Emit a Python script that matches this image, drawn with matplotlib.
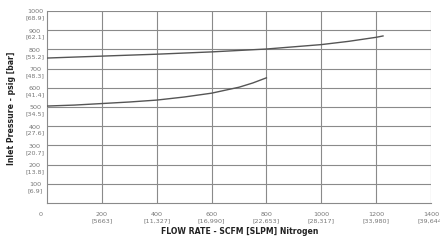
import numpy as np
import matplotlib
matplotlib.use("Agg")
import matplotlib.pyplot as plt
from matplotlib import transforms

# curve data (flow SCFM, pressure psig)
upper_flow = [0, 200, 400, 600, 800, 1000, 1100, 1200, 1225]
upper_psig = [755, 765, 775, 787, 802, 825, 842, 863, 870]
lower_flow = [0, 100, 200, 300, 400, 500, 600, 700, 750, 800]
lower_psig = [505, 510, 518, 526, 536, 552, 572, 603, 625, 652]

y_ticks = [100, 200, 300, 400, 500, 600, 700, 800, 900, 1000]
y_bar = ["6.9", "13.8", "20.7", "27.6", "34.5", "41.4", "48.3", "55.2", "62.1", "68.9"]
x_ticks = [200, 400, 600, 800, 1000, 1200, 1400]
x_slpm = ["5663", "11,327", "16,990", "22,653", "28,317", "33,980", "39,644"]

fig = plt.figure(figsize=(4.4, 2.41), dpi=100)
ax = fig.add_axes([47 / 440, 1 - 203 / 241, 384 / 440, 192 / 241])

grid_col = "#8a8a8a"
for y in y_ticks:
    ax.axhline(y, color=grid_col, lw=0.8, zorder=1)
for x in x_ticks:
    ax.axvline(x, color=grid_col, lw=0.8, zorder=1)

ax.plot(upper_flow, upper_psig, color="#555555", lw=1.0, zorder=3)
ax.plot(lower_flow, lower_psig, color="#555555", lw=1.0, zorder=3)

ax.set_xlim(0, 1400)
ax.set_ylim(0, 1000)
ax.set_xticks([])
ax.set_yticks([])
for side in ["top", "right"]:
    ax.spines[side].set_visible(False)
for side in ["left", "bottom"]:
    ax.spines[side].set_color(grid_col)
    ax.spines[side].set_linewidth(0.8)

fs = 4.6
tc = "#777777"
# y labels sit slightly below their grid line
yoff = transforms.ScaledTranslation(0, -4 / 100, fig.dpi_scale_trans)
ytrans = transforms.blended_transform_factory(fig.transFigure, ax.transData) + yoff
for y, b in zip(y_ticks, y_bar):
    ax.text(35 / 440, y, f"{y}\n[{b}]", transform=ytrans, ha="center", va="center",
            fontsize=fs, color=tc, linespacing=1.3)
xtrans = transforms.blended_transform_factory(ax.transData, fig.transFigure)
for x, s in zip(x_ticks, x_slpm):
    ax.text(x, 1 - 217.5 / 241, f"{x}\n[{s}]", transform=xtrans, ha="center", va="center",
            fontsize=fs, color=tc, linespacing=1.3)
fig.text(41 / 440, 1 - 215 / 241, "0", ha="center", va="center", fontsize=fs, color=tc)

fig.text(12 / 440, 1 - 108 / 241, "Inlet Pressure - psig [bar]", rotation=90,
         ha="center", va="center", fontsize=5.6, fontweight="bold", color="#222222")
fig.text(240 / 440, 1 - 231 / 241, "FLOW RATE - SCFM [SLPM] Nitrogen",
         ha="center", va="center", fontsize=5.6, fontweight="bold", color="#222222")

fig.savefig("out.png", dpi=100)
